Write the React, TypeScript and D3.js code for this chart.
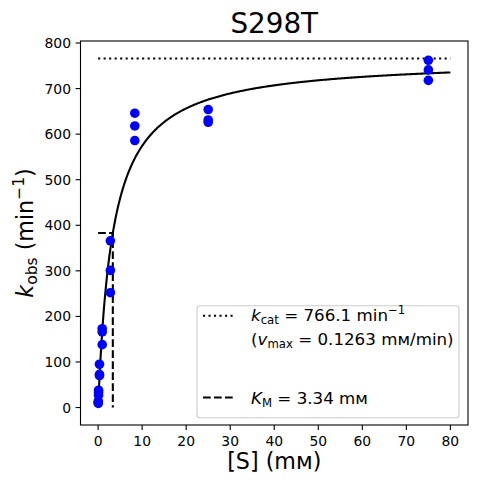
import * as d3 from "d3"

// substrate concentrations (mM), 3-fold dilution series
const concentrations = [75, 25, 8.333, 2.778, 0.926, 0.309, 0.103, 0.034]
// triplicate kobs readings (min^-1), one row per concentration
const rep1 = [762, 654, 646, 366, 173, 95, 38, 14]
const rep2 = [741, 631, 618, 301, 166, 73, 33, 11]
const rep3 = [718, 626, 586, 252, 138, 70, 27, 9]

const kcat = 766.1
const km = 3.34
const vmax = 0.1263
const xTicks = [0, 10, 20, 30, 40, 50, 60, 70, 80]
const yTicks = [0, 100, 200, 300, 400, 500, 600, 700, 800]

const W = 477
const H = 484
const margin = { left: 80.5, right: 9, top: 41, bottom: 59 }
const font = "DejaVu Sans, sans-serif"
const lw = 2.08
const dotted = "2.1 3.4"
const dashed = "7.7 3.3"

export default function App() {
  const x = d3.scaleLinear().domain([-4, 84]).range([margin.left, W - margin.right])
  const y = d3
    .scaleLinear()
    .domain([-0.05 * kcat, 1.05 * kcat])
    .range([H - margin.bottom, margin.top])

  const points = concentrations.flatMap((c, i) => [
    { x: c, y: rep1[i] },
    { x: c, y: rep2[i] },
    { x: c, y: rep3[i] },
  ])

  // fitted Michaelis-Menten curve from the legend parameters
  const fitX = d3.range(0, 80.0001, 0.2)
  const line = d3
    .line<number>()
    .x((d) => x(d))
    .y((d) => y((kcat * d) / (km + d)))

  const x0 = margin.left
  const x1 = W - margin.right
  const y0 = H - margin.bottom
  const y1 = margin.top
  const cx = (x0 + x1) / 2

  return (
    <svg
      width={W}
      height={H}
      style={{ position: "absolute", left: 0, top: 0, fontFamily: font }}
    >
      <rect width={W} height={H} fill="white" />

      {/* fit curve */}
      <path d={line(fitX) ?? ""} fill="none" stroke="black" strokeWidth={lw} />

      {/* kcat line */}
      <line
        x1={x(0)}
        x2={x(80)}
        y1={y(kcat)}
        y2={y(kcat)}
        stroke="black"
        strokeWidth={lw}
        strokeDasharray={dotted}
      />
      {/* KM guide */}
      <path
        d={`M${x(0)},${y(kcat / 2)}H${x(km)}V${y(0)}`}
        fill="none"
        stroke="black"
        strokeWidth={lw}
        strokeDasharray={dashed}
      />

      {points.map((p, i) => (
        <circle key={i} cx={x(p.x)} cy={y(p.y)} r={4.8} fill="#0000ff" />
      ))}

      {/* frame */}
      <rect
        x={x0}
        y={y1}
        width={x1 - x0}
        height={y0 - y1}
        fill="none"
        stroke="black"
        strokeWidth={1.1}
      />

      {/* x ticks */}
      {xTicks.map((t) => (
        <g key={t}>
          <line x1={x(t)} x2={x(t)} y1={y0} y2={y0 + 4.9} stroke="black" strokeWidth={1.1} />
          <text x={x(t)} y={446} textAnchor="middle" fontSize={13.9}>
            {t}
          </text>
        </g>
      ))}
      {/* y ticks */}
      {yTicks.map((t) => (
        <g key={t}>
          <line x1={x0 - 4.9} x2={x0} y1={y(t)} y2={y(t)} stroke="black" strokeWidth={1.1} />
          <text x={71} y={y(t) + 5} textAnchor="end" fontSize={13.9}>
            {t}
          </text>
        </g>
      ))}

      {/* title */}
      <text x={cx} y={33} textAnchor="middle" fontSize={27.8}>
        S298T
      </text>

      {/* x label */}
      <text x={cx} y={469} textAnchor="middle" fontSize={22.2}>
        [S] (mᴍ)
      </text>

      {/* y label */}
      <text
        transform={`translate(33,${(y0 + y1) / 2}) rotate(-90)`}
        textAnchor="middle"
        fontSize={22.2}
      >
        <tspan fontStyle="italic">k</tspan>
        <tspan fontSize={15.5} dy={4}>
          obs
        </tspan>
        <tspan dy={-4}> (min</tspan>
        <tspan fontSize={15.5} dy={-9}>
          −1
        </tspan>
        <tspan dy={9}>)</tspan>
      </text>

      {/* legend */}
      <rect
        x={197}
        y={305.7}
        width={262}
        height={112}
        rx={3}
        fill="white"
        fillOpacity={0.8}
        stroke="#cccccc"
        strokeWidth={1.1}
      />
      <line
        x1={203}
        x2={236}
        y1={315.7}
        y2={315.7}
        stroke="black"
        strokeWidth={lw}
        strokeDasharray={dotted}
      />
      <line
        x1={203}
        x2={236}
        y1={397.5}
        y2={397.5}
        stroke="black"
        strokeWidth={lw}
        strokeDasharray={dashed}
      />
      <g fontSize={16.7}>
        <text x={251} y={321}>
          <tspan fontStyle="italic">k</tspan>
          <tspan fontSize={11.7} dy={3}>
            cat
          </tspan>
          <tspan dy={-3}> = {kcat.toFixed(1)} min</tspan>
          <tspan fontSize={11.7} dy={-7}>
            −1
          </tspan>
        </text>
        <text x={251} y={345}>
          <tspan>(</tspan>
          <tspan fontStyle="italic">v</tspan>
          <tspan fontSize={11.7} dy={3}>
            max
          </tspan>
          <tspan dy={-3}> = {vmax} mᴍ/min)</tspan>
        </text>
        <text x={251} y={404.3}>
          <tspan fontStyle="italic">K</tspan>
          <tspan fontSize={11.7} dy={3}>
            M
          </tspan>
          <tspan dy={-3}> = {km.toFixed(2)} mᴍ</tspan>
        </text>
      </g>
    </svg>
  )
}
